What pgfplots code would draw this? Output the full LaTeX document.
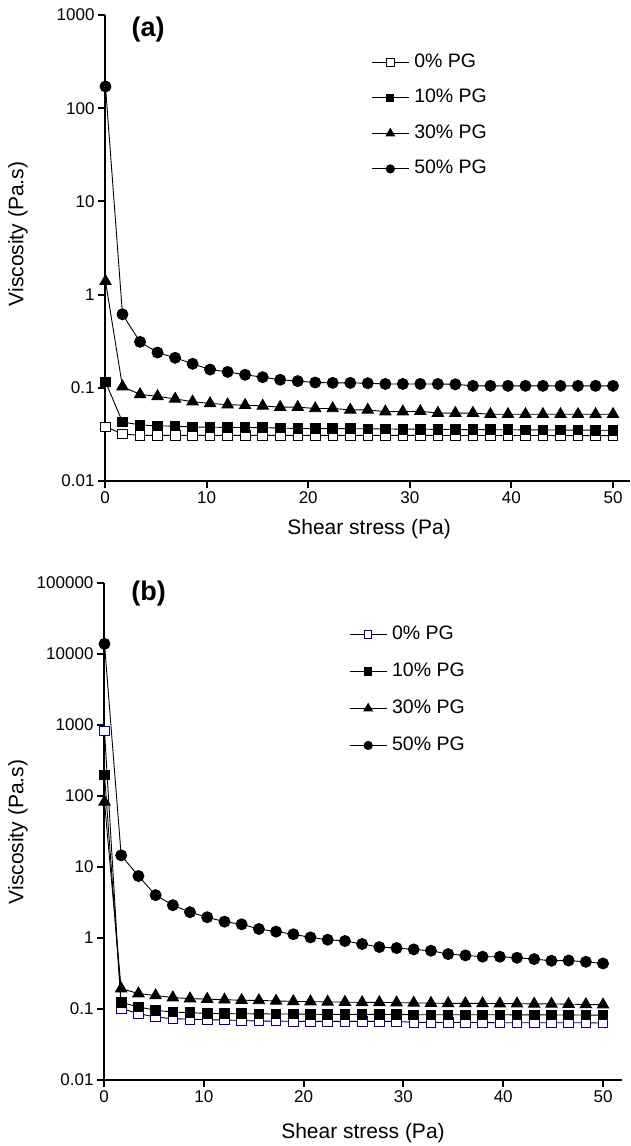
\documentclass[border=0pt]{standalone}
\usepackage{fontspec}
\setmainfont{Liberation Sans}
\usepackage{pgfplots}
\pgfplotsset{compat=1.18}
\usepackage{pgfplotstable}
\definecolor{navy}{RGB}{0,0,160}

\pgfplotstableread{
x p0 p10 p30 p50
0.05 0.0382 0.116 1.39 171
1.72 0.0320 0.0430 0.103 0.615
3.45 0.0309 0.0400 0.085 0.311
5.17 0.0309 0.0390 0.081 0.239
6.90 0.0309 0.0388 0.076 0.210
8.62 0.0309 0.0380 0.071 0.181
10.34 0.0309 0.0378 0.068 0.157
12.07 0.0309 0.0376 0.066 0.148
13.79 0.0309 0.0375 0.065 0.138
15.52 0.0309 0.0374 0.064 0.130
17.24 0.0309 0.0370 0.062 0.122
18.97 0.0309 0.0366 0.062 0.118
20.69 0.0309 0.0365 0.060 0.114
22.41 0.0309 0.0365 0.060 0.113
24.14 0.0309 0.0364 0.058 0.113
25.86 0.0309 0.0363 0.058 0.112
27.59 0.0309 0.0362 0.0555 0.110
29.31 0.0309 0.0360 0.0555 0.110
31.03 0.0309 0.0360 0.0560 0.110
32.76 0.0308 0.0358 0.0536 0.110
34.48 0.0308 0.0357 0.0536 0.109
36.21 0.0308 0.0356 0.0536 0.105
37.93 0.0308 0.0355 0.0520 0.105
39.66 0.0308 0.0355 0.0520 0.105
41.38 0.0308 0.0354 0.0520 0.105
43.10 0.0308 0.0353 0.0520 0.105
44.83 0.0307 0.0352 0.0520 0.105
46.55 0.0307 0.0352 0.0520 0.105
48.28 0.0307 0.0351 0.0520 0.105
50.00 0.0307 0.0350 0.0520 0.105
}\dataA

\pgfplotstableread{
x p0 p10 p30 p50
0.05 823 199 82.7 13900
1.72 0.102 0.124 0.194 14.6
3.45 0.086 0.107 0.165 7.47
5.17 0.077 0.0958 0.155 4.02
6.90 0.073 0.0907 0.145 2.90
8.62 0.072 0.0887 0.140 2.31
10.34 0.0706 0.0868 0.138 1.96
12.07 0.0700 0.0860 0.135 1.70
13.79 0.0690 0.0858 0.133 1.56
15.52 0.0676 0.0855 0.132 1.34
17.24 0.0676 0.0850 0.130 1.23
18.97 0.0670 0.0850 0.128 1.13
20.69 0.0670 0.0845 0.127 1.02
22.41 0.0670 0.0840 0.126 0.946
24.14 0.0670 0.0840 0.125 0.907
25.86 0.0670 0.0840 0.124 0.823
27.59 0.0670 0.0838 0.124 0.746
29.31 0.0670 0.0835 0.123 0.722
31.03 0.0648 0.0830 0.122 0.691
32.76 0.0648 0.0830 0.121 0.662
34.48 0.0645 0.0830 0.120 0.594
36.21 0.0645 0.0830 0.120 0.569
37.93 0.0645 0.0830 0.120 0.545
39.66 0.0640 0.0830 0.119 0.545
41.38 0.0640 0.0828 0.119 0.527
43.10 0.0640 0.0826 0.118 0.505
44.83 0.0640 0.0825 0.118 0.478
46.55 0.0640 0.0824 0.117 0.482
48.28 0.0640 0.0822 0.116 0.462
50.00 0.0634 0.0820 0.115 0.438
}\dataB

\begin{document}
\begin{tikzpicture}
\useasboundingbox (0pt,0pt) rectangle (630pt,-1146pt);

\begin{axis}[
  scale only axis,
  anchor=south west,
  at={(105pt,-481pt)},
  width=525pt, height=466pt,
  ymode=log,
  axis x line*=bottom,
  axis y line*=left,
  axis line style={line width=2.2pt, black},
  tick align=outside,
  major tick length=7pt,
  tick style={line width=2pt, black},
  xminorticks=false, yminorticks=false,
  xmin=0, xmax=51.67,
  ymin=0.01, ymax=1000,
  xtick={0,10,20,30,40,50},
  xticklabels={0,10,20,30,40,50},
  ytick={0.01,0.1,1,10,100,1000},
  yticklabels={0.01,0.1,1,10,100,1000},
  tick label style={font=\fontsize{17}{17}\selectfont},
  label style={font=\fontsize{21}{21}\selectfont},
  clip=false,
  every axis plot/.append style={line width=0.9pt, black},
  xlabel={Shear stress (Pa)},
  ylabel={Viscosity (Pa.s)},
  xlabel style={at={(axis description cs:0.503,-0.103)}, anchor=center},
  ylabel style={at={(axis description cs:-0.166,0.53)}, anchor=center},
  legend cell align=left,
  legend image code/.code={\draw[mark repeat=2,mark phase=2,#1,every mark/.append style={scale=0.75}] plot coordinates {(0pt,0pt)(18.5pt,0pt)(37pt,0pt)};},
  legend style={at={(axis description cs:0.507,0.918)}, anchor=north west,
    draw=none, fill=none, inner sep=0pt, row sep=17.5pt, column sep=5pt,
    font=\fontsize{19.5}{20}\selectfont,
    nodes={inner sep=0pt, text height=14pt, text depth=4pt}},
]
\addplot[mark=square*, mark size=4.8pt, mark options={solid, draw=black, fill=white, line width=0.8pt}] table[x=x,y=p0] {\dataA};
\addlegendentry{0\% PG}
\addplot[mark=square*, mark size=4.8pt, mark options={solid, fill=black}] table[x=x,y=p10] {\dataA};
\addlegendentry{10\% PG}
\addplot[mark=triangle*, mark size=6.5pt, mark options={solid, fill=black}] table[x=x,y=p30] {\dataA};
\addlegendentry{30\% PG}
\addplot[mark=*, mark size=5.5pt, mark options={solid, fill=black}] table[x=x,y=p50] {\dataA};
\addlegendentry{50\% PG}
\node[anchor=west, font=\bfseries\fontsize{27}{27}\selectfont] at (axis description cs:0.044,0.968) {(a)};
\end{axis}

\begin{axis}[
  scale only axis,
  anchor=south west,
  at={(104pt,-1080pt)},
  width=518pt, height=497pt,
  ymode=log,
  axis x line*=bottom,
  axis y line*=left,
  axis line style={line width=2.2pt, black},
  tick align=outside,
  major tick length=7pt,
  tick style={line width=2pt, black},
  xminorticks=false, yminorticks=false,
  xmin=0, xmax=51.9,
  ymin=0.01, ymax=100000,
  xtick={0,10,20,30,40,50},
  xticklabels={0,10,20,30,40,50},
  ytick={0.01,0.1,1,10,100,1000,10000,100000},
  yticklabels={0.01,0.1,1,10,100,1000,10000,100000},
  tick label style={font=\fontsize{17}{17}\selectfont},
  label style={font=\fontsize{21}{21}\selectfont},
  clip=false,
  every axis plot/.append style={line width=0.9pt, black},
  xlabel={Shear stress (Pa)},
  ylabel={Viscosity (Pa.s)},
  xlabel style={at={(axis description cs:0.5,-0.107)}, anchor=center},
  ylabel style={at={(axis description cs:-0.166,0.499)}, anchor=center},
  legend cell align=left,
  legend image code/.code={\draw[mark repeat=2,mark phase=2,#1,every mark/.append style={scale=0.75}] plot coordinates {(0pt,0pt)(18.5pt,0pt)(37pt,0pt)};},
  legend style={at={(axis description cs:0.473,0.915)}, anchor=north west,
    draw=none, fill=none, inner sep=0pt, row sep=19pt, column sep=5pt,
    font=\fontsize{19.5}{20}\selectfont,
    nodes={inner sep=0pt, text height=14pt, text depth=4pt}},
]
\addplot[mark=square*, mark size=4.8pt, mark options={solid, draw=navy, fill=white, line width=0.8pt}] table[x=x,y=p0] {\dataB};
\addlegendentry{0\% PG}
\addplot[mark=square*, mark size=4.8pt, mark options={solid, fill=black}] table[x=x,y=p10] {\dataB};
\addlegendentry{10\% PG}
\addplot[mark=triangle*, mark size=6.5pt, mark options={solid, fill=black}] table[x=x,y=p30] {\dataB};
\addlegendentry{30\% PG}
\addplot[mark=*, mark size=5.5pt, mark options={solid, fill=black}] table[x=x,y=p50] {\dataB};
\addlegendentry{50\% PG}
\node[anchor=west, font=\bfseries\fontsize{27}{27}\selectfont] at (axis description cs:0.046,0.978) {(b)};
\end{axis}
\end{tikzpicture}
\end{document}
